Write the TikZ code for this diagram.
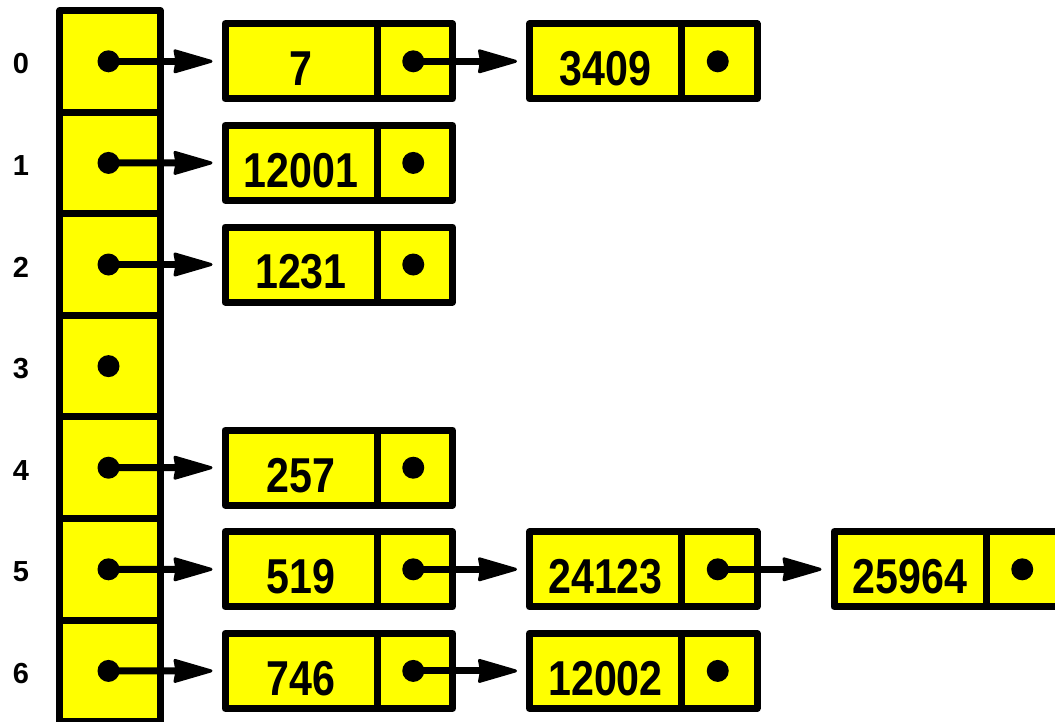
\documentclass[tikz,border=0pt]{standalone}
\usepackage{fontspec}
\setmainfont{Liberation Sans}
\usetikzlibrary{arrows.meta}
\definecolor{cellyellow}{RGB}{255,255,0}
\newcommand{\linkto}[2]{%
  \draw[linkline] (#1.center) -- ([xshift=-44pt]#2.west);
  \filldraw[linkhead] ([xshift=-14pt]#2.west)
    -- ([xshift=-50pt,yshift=10.5pt]#2.west)
    -- ([xshift=-48pt]#2.west)
    -- ([xshift=-50pt,yshift=-10.5pt]#2.west) -- cycle;
}
\begin{document}
\begin{tikzpicture}[x=1pt,y=-1pt,
  box/.style={draw=black, fill=cellyellow, line width=7pt, line join=round, inner sep=0pt, outer sep=0pt, minimum height=75pt},
  arrcell/.style={box, minimum width=100.5pt, minimum height=101.6pt},
  datacell/.style={box, minimum width=152pt},
  ptrcell/.style={box, minimum width=75.5pt},
  val/.style={font=\bfseries\fontsize{49}{49}\selectfont, xscale=0.84, inner sep=0pt},
  idx/.style={font=\bfseries\fontsize{29}{29}\selectfont, inner sep=0pt},
  linkline/.style={line width=7pt},
  linkhead/.style={draw=black, fill=black, line width=3pt, line join=round},
  dot/.style={circle, fill=black, inner sep=0pt, minimum size=22pt}
]
\useasboundingbox (0,0) rectangle (1055,721);

% array of buckets
\foreach \r in {0,...,6}{
  \node[arrcell] (a\r) at (110, {61.3+101.6*\r}) {};
  \node[idx] (i\r) at (21, {63.8+101.6*\r}) {\r};
}

% list cells: row 0
\node[datacell] (d00) at (301,61.3) {};
\node[ptrcell] (p00) at (414.75,61.3) {};
\node[datacell] (d01) at (605.5,61.3) {};
\node[ptrcell] (p01) at (719.25,61.3) {};
% row 1
\node[datacell] (d10) at (301,162.9) {};
\node[ptrcell] (p10) at (414.75,162.9) {};
% row 2
\node[datacell] (d20) at (301,264.5) {};
\node[ptrcell] (p20) at (414.75,264.5) {};
% row 4
\node[datacell] (d40) at (301,467.7) {};
\node[ptrcell] (p40) at (414.75,467.7) {};
% row 5
\node[datacell] (d50) at (301,569.3) {};
\node[ptrcell] (p50) at (414.75,569.3) {};
\node[datacell] (d51) at (605.5,569.3) {};
\node[ptrcell] (p51) at (719.25,569.3) {};
\node[datacell] (d52) at (910,569.3) {};
\node[ptrcell] (p52) at (1023.75,569.3) {};
% row 6
\node[datacell] (d60) at (301,670.9) {};
\node[ptrcell] (p60) at (414.75,670.9) {};
\node[datacell] (d61) at (605.5,670.9) {};
\node[ptrcell] (p61) at (719.25,670.9) {};

% values
\foreach \n/\t in {d00/7,d01/3409,d10/12001,d20/1231,d40/257,d50/519,d51/24123,d52/25964,d60/746,d61/12002}{
  \node[val] (v\n) at ([yshift=-7.5pt]\n.center) {\t};
}

% pointer dots
\foreach \n in {a0,a1,a2,a3,a4,a5,a6,p00,p01,p10,p20,p40,p50,p51,p52,p60,p61}{
  \node[dot] (dot\n) at ([xshift=-1.5pt]\n.center) {};
}

% links
\linkto{dota0}{d00}
\linkto{dotp00}{d01}
\linkto{dota1}{d10}
\linkto{dota2}{d20}
\linkto{dota4}{d40}
\linkto{dota5}{d50}
\linkto{dotp50}{d51}
\linkto{dotp51}{d52}
\linkto{dota6}{d60}
\linkto{dotp60}{d61}
\end{tikzpicture}
\end{document}
